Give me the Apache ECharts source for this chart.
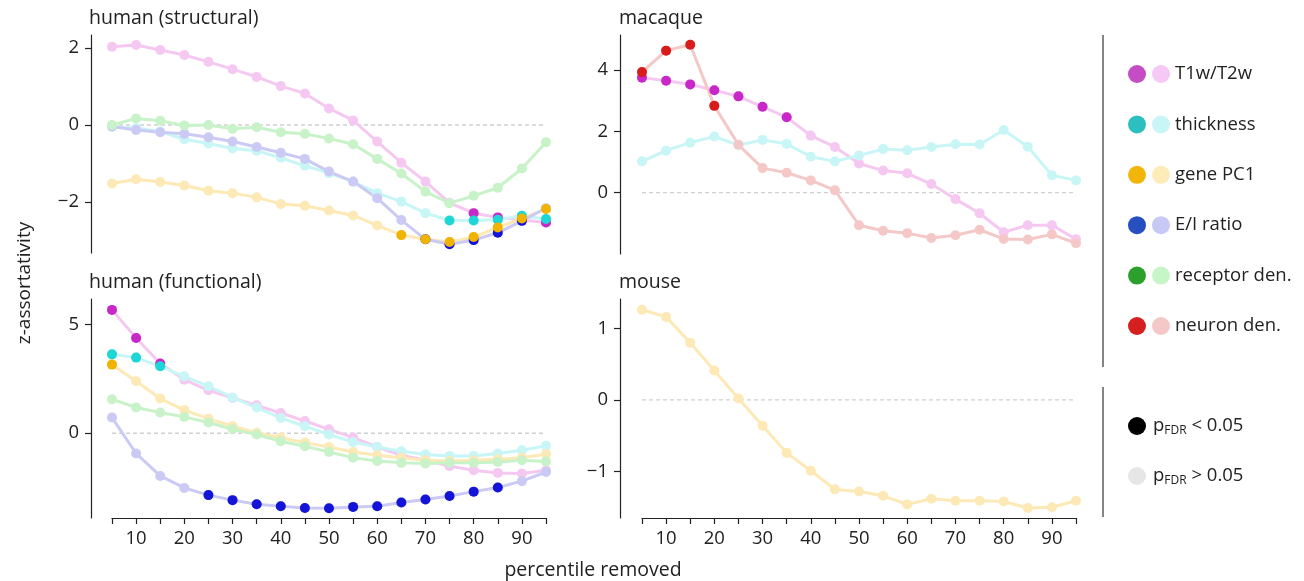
<!DOCTYPE html>
<html>
<head>
<meta charset="utf-8">
<script src="https://cdn.jsdelivr.net/npm/echarts@6/dist/echarts.min.js"></script>
<style>
  html, body { margin: 0; padding: 0; background: #fff; }
  #chart { width: 1304px; height: 581px; }
</style>
</head>
<body>
<div id="chart"></div>
<script>
// percentile removed
const xs = [5, 10, 15, 20, 25, 30, 35, 40, 45, 50, 55, 60, 65, 70, 75, 80, 85, 90, 95];

// human (structural)
const sT1w = [2.03, 2.08, 1.95, 1.82, 1.64, 1.45, 1.25, 1.01, 0.82, 0.43, 0.12, -0.43, -0.98, -1.47, -2.02, -2.29, -2.40, -2.47, -2.53];
const sThick = [-0.05, -0.08, -0.17, -0.37, -0.48, -0.61, -0.67, -0.85, -1.06, -1.25, -1.47, -1.77, -1.99, -2.29, -2.48, -2.48, -2.46, -2.36, -2.44];
const sGene = [-1.52, -1.41, -1.48, -1.57, -1.71, -1.77, -1.88, -2.05, -2.10, -2.22, -2.35, -2.61, -2.86, -2.97, -3.04, -2.91, -2.66, -2.43, -2.18];
const sEI = [-0.04, -0.13, -0.19, -0.23, -0.32, -0.43, -0.57, -0.72, -0.88, -1.21, -1.47, -1.90, -2.47, -2.97, -3.10, -2.99, -2.80, -2.49, -2.16];
const sRec = [0.0, 0.17, 0.11, -0.01, 0.0, -0.10, -0.06, -0.19, -0.23, -0.35, -0.50, -0.88, -1.26, -1.73, -2.03, -1.84, -1.63, -1.13, -0.45];
const sT1wSig = [80, 85, 90, 95];
const sThickSig = [75, 80, 85, 90, 95];
const sGeneSig = [65, 70, 75, 80, 85, 90, 95];
const sEISig = [70, 75, 80, 85, 90];

// human (functional)
const fT1w = [5.66, 4.37, 3.20, 2.46, 1.97, 1.62, 1.28, 0.93, 0.56, 0.18, -0.20, -0.63, -1.01, -1.24, -1.51, -1.70, -1.82, -1.85, -1.70];
const fThick = [3.62, 3.47, 3.07, 2.61, 2.16, 1.64, 1.18, 0.70, 0.32, -0.06, -0.40, -0.63, -0.83, -0.98, -1.04, -1.04, -0.93, -0.78, -0.58];
const fGene = [3.15, 2.39, 1.59, 1.06, 0.67, 0.32, 0.02, -0.21, -0.43, -0.63, -0.86, -1.01, -1.13, -1.24, -1.27, -1.24, -1.19, -1.12, -0.96];
const fEI = [0.72, -0.93, -1.96, -2.51, -2.84, -3.07, -3.26, -3.35, -3.43, -3.44, -3.38, -3.35, -3.18, -3.04, -2.88, -2.68, -2.49, -2.20, -1.78];
const fRec = [1.56, 1.18, 0.95, 0.75, 0.49, 0.18, -0.06, -0.37, -0.60, -0.86, -1.12, -1.27, -1.36, -1.39, -1.36, -1.36, -1.32, -1.24, -1.30];
const fT1wSig = [5, 10, 15];
const fThickSig = [5, 10, 15];
const fGeneSig = [5];
const fEISig = [25, 30, 35, 40, 45, 50, 55, 60, 65, 70, 75, 80, 85];

// macaque
const mT1w = [3.75, 3.65, 3.53, 3.34, 3.14, 2.80, 2.46, 1.86, 1.49, 0.95, 0.72, 0.63, 0.28, -0.21, -0.67, -1.29, -1.06, -1.06, -1.52];
const mThick = [1.02, 1.37, 1.63, 1.83, 1.55, 1.72, 1.59, 1.17, 1.02, 1.21, 1.42, 1.38, 1.49, 1.58, 1.57, 2.04, 1.50, 0.57, 0.40];
const mNeuron = [3.93, 4.63, 4.82, 2.83, 1.56, 0.80, 0.65, 0.40, 0.08, -1.06, -1.24, -1.32, -1.48, -1.39, -1.21, -1.51, -1.53, -1.36, -1.65];
const mT1wSig = [5, 10, 15, 20, 25, 30, 35];
const mNeuronSig = [5, 10, 15, 20];

// mouse
const moGene = [1.26, 1.16, 0.80, 0.41, 0.02, -0.36, -0.74, -0.99, -1.25, -1.28, -1.34, -1.46, -1.38, -1.41, -1.41, -1.42, -1.51, -1.50, -1.41];

// tick labels
const xTickVals = [5, 10, 15, 20, 25, 30, 35, 40, 45, 50, 55, 60, 65, 70, 75, 80, 85, 90, 95];
const xLabelVals = [10, 20, 30, 40, 50, 60, 70, 80, 90];
const yTicksStruct = [-2, 0, 2];
const yTicksFunc = [0, 5];
const yTicksMacaque = [0, 2, 4];
const yTicksMouse = [-1, 0, 1];

// legend
const legendNames = ["T1w/T2w", "thickness", "gene PC1", "E/I ratio", "receptor den.", "neuron den."];
const legendDark = ["#c44cc4", "#2bbfbf", "#f2b50a", "#2650c0", "#2ca02c", "#d62020"];
const legendLight = ["#f5c8f5", "#c8f5f5", "#fdebb8", "#c8c8f5", "#c8f5c8", "#f5c8c8"];

// colours used for the marks
const light = { t1w: "#f5c8f2", thick: "#c8f5f5", gene: "#fde9b5", ei: "#cacaf5", rec: "#c8f2c8", neuron: "#f5c8c8" };
const dark = { t1w: "#c828c8", thick: "#1ed6d6", gene: "#f0b400", ei: "#1414d8", rec: "#2ca02c", neuron: "#d81c1c" };

const FONT = "Open Sans";
const TXT = "#222";

const chart = echarts.init(document.getElementById("chart"));

const grids = [
  { left: 112, top: 35, width: 434, height: 218 },   // human structural
  { left: 642, top: 35, width: 434, height: 219 },   // macaque
  { left: 112, top: 299, width: 434, height: 219 },  // human functional
  { left: 642, top: 299, width: 434, height: 219 },  // mouse
];

const yRanges = [
  [-3.325, 2.338, yTicksStruct],
  [-2.0, 5.14, yTicksMacaque],
  [-3.89, 6.16, yTicksFunc],
  [-1.65, 1.41, yTicksMouse],
];

const xAxes = grids.map((g, i) => {
  const bottom = i >= 2;
  return {
    gridIndex: i,
    type: "value",
    min: 5,
    max: 95,
    show: bottom,
    axisLine: { show: bottom, onZero: false, lineStyle: { color: TXT, width: 1.2 } },
    axisTick: { show: bottom, length: 6, customValues: xTickVals, lineStyle: { color: TXT, width: 1.2 } },
    axisLabel: { show: bottom, customValues: xLabelVals, margin: 11, fontSize: 18.5, color: TXT, fontFamily: FONT },
    splitLine: { show: false },
  };
});

const yAxes = yRanges.map((r, i) => ({
  gridIndex: i,
  type: "value",
  min: r[0],
  max: r[1],
  offset: i % 2 === 0 ? 21 : 22,
  axisLine: { show: true, onZero: false, lineStyle: { color: TXT, width: 1.2 } },
  axisTick: { show: true, length: 6, customValues: r[2], lineStyle: { color: TXT, width: 1.2 } },
  axisLabel: {
    customValues: r[2],
    margin: 12,
    fontSize: 18.5,
    color: TXT,
    fontFamily: FONT,
    formatter: (v) => String(v).replace("-", "\u2212"),
  },
  splitLine: { show: false },
}));

const series = [];

// dashed zero line in every panel
for (let i = 0; i < 4; i++) {
  series.push({
    type: "line",
    xAxisIndex: i,
    yAxisIndex: i,
    data: [[5, 0], [95, 0]],
    symbol: "none",
    silent: true,
    lineStyle: { color: "#cfcfcf", width: 1.3, type: [4, 3] },
    z: 1,
  });
}

function addLine(gi, vals, col) {
  series.push({
    type: "line",
    xAxisIndex: gi,
    yAxisIndex: gi,
    data: xs.map((x, k) => [x, vals[k]]),
    symbol: "circle",
    symbolSize: 10,
    showSymbol: true,
    itemStyle: { color: col },
    lineStyle: { color: col, width: 3 },
    z: 2,
  });
}

function addSig(gi, vals, sig, col, z) {
  series.push({
    type: "scatter",
    xAxisIndex: gi,
    yAxisIndex: gi,
    data: xs.map((x, k) => [x, vals[k]]).filter((p) => sig.includes(p[0])),
    symbol: "circle",
    symbolSize: 10,
    itemStyle: { color: col, opacity: 1 },
    z: z,
  });
}

// human (structural)
addLine(0, sT1w, light.t1w);
addLine(0, sThick, light.thick);
addLine(0, sGene, light.gene);
addLine(0, sEI, light.ei);
addLine(0, sRec, light.rec);
addSig(0, sT1w, sT1wSig, dark.t1w, 3);
addSig(0, sThick, sThickSig, dark.thick, 4);
addSig(0, sEI, sEISig, dark.ei, 5);
addSig(0, sGene, sGeneSig, dark.gene, 6);

// macaque
addLine(1, mT1w, light.t1w);
addLine(1, mThick, light.thick);
addLine(1, mNeuron, light.neuron);
addSig(1, mT1w, mT1wSig, dark.t1w, 3);
addSig(1, mNeuron, mNeuronSig, dark.neuron, 4);

// human (functional)
addLine(2, fT1w, light.t1w);
addLine(2, fThick, light.thick);
addLine(2, fGene, light.gene);
addLine(2, fEI, light.ei);
addLine(2, fRec, light.rec);
addSig(2, fT1w, fT1wSig, dark.t1w, 3);
addSig(2, fThick, fThickSig, dark.thick, 4);
addSig(2, fEI, fEISig, dark.ei, 5);
addSig(2, fGene, fGeneSig, dark.gene, 6);

// mouse
addLine(3, moGene, light.gene);

// panel titles, axis titles and the legend
const graphic = [
  { type: "text", left: 89, top: 8, style: { text: "human (structural)", fontSize: 19.5, fill: TXT, fontFamily: FONT } },
  { type: "text", left: 619, top: 8, style: { text: "macaque", fontSize: 19.5, fill: TXT, fontFamily: FONT } },
  { type: "text", left: 89, top: 272, style: { text: "human (functional)", fontSize: 19.5, fill: TXT, fontFamily: FONT } },
  { type: "text", left: 619, top: 272, style: { text: "mouse", fontSize: 19.5, fill: TXT, fontFamily: FONT } },
  {
    type: "text", x: 25, y: 283, rotation: Math.PI / 2,
    style: { text: "z-assortativity", fontSize: 19, fill: TXT, fontFamily: FONT, align: "center", verticalAlign: "middle" },
  },
  {
    type: "text", x: 593, y: 570,
    style: { text: "percentile removed", fontSize: 19.5, fill: TXT, fontFamily: FONT, align: "center", verticalAlign: "middle" },
  },
  { type: "line", shape: { x1: 1103, y1: 35, x2: 1103, y2: 367 }, style: { stroke: "#333", lineWidth: 1.2 } },
  { type: "line", shape: { x1: 1103, y1: 387, x2: 1103, y2: 517 }, style: { stroke: "#333", lineWidth: 1.2 } },
];

legendNames.forEach((name, i) => {
  const y = 74 + i * 50.4;
  graphic.push({ type: "circle", shape: { cx: 1137, cy: y, r: 9 }, style: { fill: legendDark[i] } });
  graphic.push({ type: "circle", shape: { cx: 1161, cy: y, r: 9 }, style: { fill: legendLight[i] } });
  graphic.push({
    type: "text", x: 1175, y: y,
    style: { text: name, fontSize: 18.5, fill: TXT, fontFamily: FONT, verticalAlign: "middle" },
  });
});

[["#000", "<"], ["#e6e6e6", ">"]].forEach((d, i) => {
  const y = 426 + i * 50;
  graphic.push({ type: "circle", shape: { cx: 1137, cy: y, r: 9 }, style: { fill: d[0] } });
  graphic.push({
    type: "text", x: 1153, y: y,
    style: {
      text: "{p|p}{s|FDR}{p| " + d[1] + " 0.05}",
      verticalAlign: "middle",
      rich: {
        p: { fontSize: 18.5, fill: TXT, fontFamily: FONT },
        s: { fontSize: 12, fill: TXT, fontFamily: FONT, padding: [10, 0, 0, 0] },
      },
    },
  });
});

chart.setOption({
  animation: false,
  backgroundColor: "#fff",
  grid: grids,
  xAxis: xAxes,
  yAxis: yAxes,
  series: series,
  graphic: graphic,
});
</script>
</body>
</html>
